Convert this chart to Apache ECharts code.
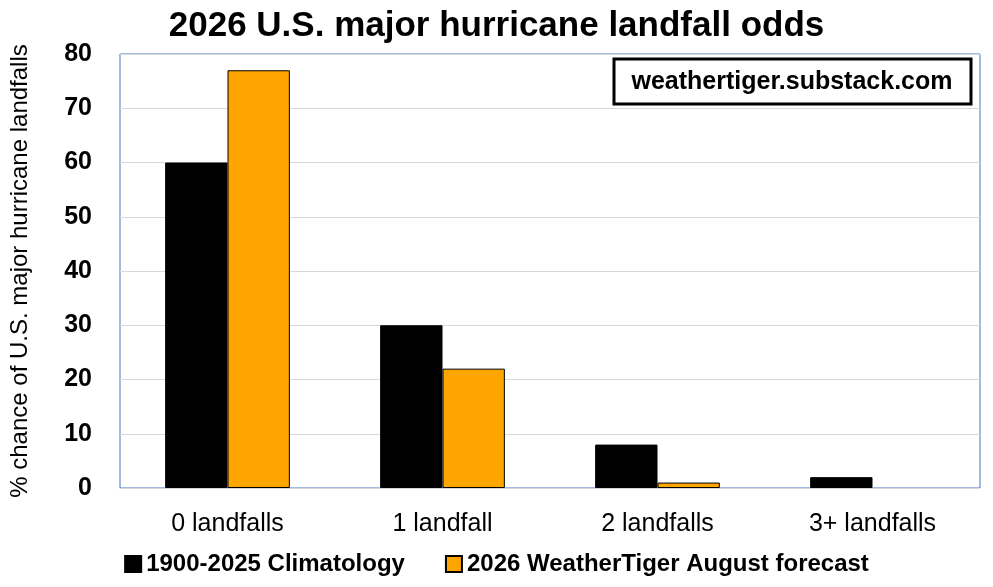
<!DOCTYPE html>
<html><head><meta charset="utf-8">
<script src="https://cdn.jsdelivr.net/npm/echarts@6/dist/echarts.min.js"></script>
<style>html,body{margin:0;padding:0;background:#fff}#c{width:993px;height:587px}</style>
</head><body><div id="c"></div>
<script>
const categories = ["0 landfalls", "1 landfall", "2 landfalls", "3+ landfalls"];
const climatology = [60, 30, 8, 2];
const forecast = [77, 22, 1, 0];
const yTicks = [0, 10, 20, 30, 40, 50, 60, 70, 80];

const F = "Liberation Sans, Arial, sans-serif";
const chart = echarts.init(document.getElementById('c'));
chart.setOption({
  animation: false,
  title: { text: "2026 U.S. major hurricane landfall odds", left: 'center', top: 4,
    textStyle: { fontFamily: F, fontSize: 35, fontWeight: 'bold', color: '#000' } },
  grid: { left: 113, right: 13, top: 54, bottom: 99, show: true, borderColor: '#4472c4', borderWidth: 1 },
  legend: { bottom: 6, left: 'center', itemWidth: 16, itemHeight: 16, itemGap: 40, icon: 'rect',
    textStyle: { fontFamily: F, fontSize: 24, fontWeight: 'bold', color: '#000' },
    data: ["1900-2025 Climatology", "2026 WeatherTiger August forecast"] },
  xAxis: { type: 'category', data: categories,
    axisLine: { lineStyle: { color: '#d9d9d9' } }, axisTick: { show: false },
    axisLabel: { fontFamily: F, fontSize: 25, color: '#000', margin: 24 } },
  yAxis: { type: 'value', min: yTicks[0], max: yTicks[yTicks.length - 1], interval: 10,
    name: "% chance of U.S. major hurricane landfalls", nameLocation: 'middle', nameGap: 88,
    nameTextStyle: { fontFamily: F, fontSize: 24, color: '#000' },
    axisLine: { show: false }, axisTick: { show: false },
    splitLine: { lineStyle: { color: '#d9d9d9' } },
    axisLabel: { fontFamily: F, fontSize: 25, fontWeight: 'bold', color: '#000', margin: 28 } },
  series: [
    { name: "1900-2025 Climatology", type: 'bar', data: climatology, barGap: '0%', barCategoryGap: '42%',
      itemStyle: { color: '#000', borderColor: '#000', borderWidth: 1 } },
    { name: "2026 WeatherTiger August forecast", type: 'bar',
      data: forecast.map(v => v === 0 ? { value: v, itemStyle: { borderWidth: 0 } } : v),
      itemStyle: { color: '#ffa500', borderColor: '#000', borderWidth: 1 } }
  ],
  graphic: [
    { type: 'rect', shape: { x: 614, y: 59, width: 357, height: 45 },
      style: { fill: '#fff', stroke: '#000', lineWidth: 3 } },
    { type: 'text', x: 792, y: 82, style: { text: "weathertiger.substack.com", fontFamily: F,
      fontSize: 25, fontWeight: 'bold', fill: '#000', align: 'center', verticalAlign: 'middle' } }
  ]
});
</script></body></html>
